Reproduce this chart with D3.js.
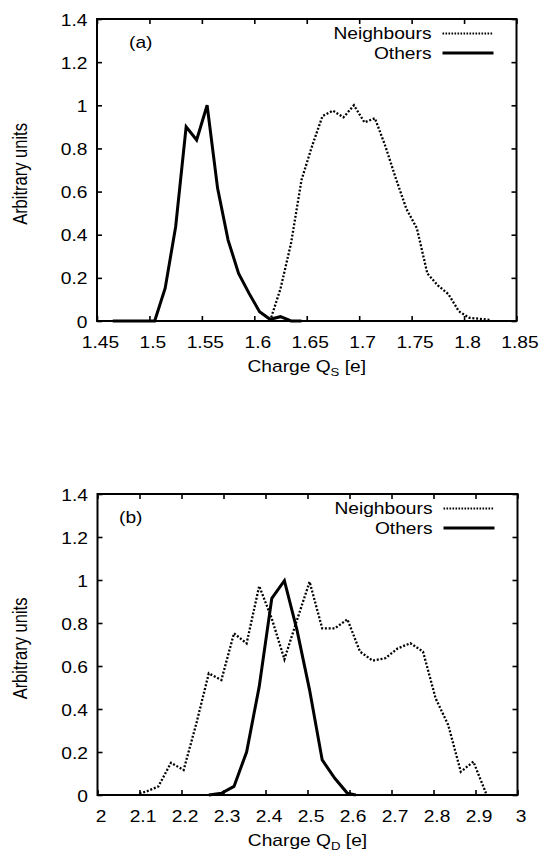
<!DOCTYPE html>
<html>
<head>
<meta charset="utf-8">
<script src="https://cdn.jsdelivr.net/npm/d3@7"></script>
<style>
  html, body { margin: 0; padding: 0; background: #fff; }
  svg { display: block; }
  text { font-family: "Liberation Sans", Arial, Helvetica, sans-serif; fill: #000; }
</style>
</head>
<body>
<svg id="fig" width="539" height="853"></svg>
<script>
// ---- Panel (a): charge Q_S ----
const qsNeighboursX = [1.615, 1.625, 1.635, 1.645, 1.655, 1.665, 1.675, 1.685, 1.695, 1.705, 1.715,
                       1.725, 1.735, 1.745, 1.755, 1.765, 1.775, 1.785, 1.795, 1.805, 1.815, 1.825];
const qsNeighboursY = [0, 0.15, 0.36, 0.654, 0.81, 0.95, 0.975, 0.944, 1.0, 0.921, 0.94,
                       0.81, 0.66, 0.52, 0.43, 0.22, 0.165, 0.125, 0.045, 0.015, 0.01, 0.005];
const qsOthersX = [1.465, 1.475, 1.485, 1.495, 1.505, 1.515, 1.525, 1.535, 1.545, 1.555, 1.565,
                   1.575, 1.585, 1.595, 1.605, 1.615, 1.625, 1.635, 1.645];
const qsOthersY = [0, 0, 0, 0, 0, 0.152, 0.437, 0.90, 0.839, 1.0, 0.615,
                   0.375, 0.221, 0.128, 0.043, 0.008, 0.02, 0, 0];
const qsTicks = [1.45, 1.5, 1.55, 1.6, 1.65, 1.7, 1.75, 1.8, 1.85];
const qsTickLabels = ["1.45", "1.5", "1.55", "1.6", "1.65", "1.7", "1.75", "1.8", "1.85"];

// ---- Panel (b): charge Q_D ----
const qdNeighboursX = [2.1, 2.115, 2.145, 2.175, 2.205, 2.235, 2.265, 2.295, 2.325, 2.355, 2.385,
                       2.415, 2.445, 2.475, 2.505, 2.535, 2.565, 2.595, 2.625, 2.655, 2.685,
                       2.715, 2.745, 2.775, 2.805, 2.835, 2.865, 2.895, 2.925];
const qdNeighboursY = [0.008, 0.015, 0.04, 0.15, 0.116, 0.33, 0.566, 0.535, 0.752, 0.705, 0.972,
                       0.82, 0.631, 0.814, 0.992, 0.775, 0.775, 0.817, 0.667, 0.625, 0.636,
                       0.682, 0.706, 0.667, 0.45, 0.326, 0.108, 0.155, 0.008];
const qdOthersX = [2.265, 2.295, 2.325, 2.355, 2.385, 2.415, 2.445, 2.475, 2.505, 2.535, 2.565, 2.595, 2.615];
const qdOthersY = [0, 0.008, 0.04, 0.20, 0.504, 0.915, 0.997, 0.767, 0.488, 0.163, 0.078, 0.008, 0];
const qdTicks = [2, 2.1, 2.2, 2.3, 2.4, 2.5, 2.6, 2.7, 2.8, 2.9, 3];
const qdTickLabels = ["2", "2.1", "2.2", "2.3", "2.4", "2.5", "2.6", "2.7", "2.8", "2.9", "3"];

// ---- Shared y axis ----
const yTicks = [0, 0.2, 0.4, 0.6, 0.8, 1.0, 1.2, 1.4];
const yTickLabels = ["0", "0.2", "0.4", "0.6", "0.8", "1", "1.2", "1.4"];
const seriesNames = ["Neighbours", "Others"];

const svg = d3.select("#fig");
svg.append("rect").attr("width", 539).attr("height", 853).attr("fill", "#fff");

const FONT = 16;
const STRETCH = 1.2;   // lettering is drawn horizontally widened

function wideText(parent, x, y, anchor, str) {
  const g = parent.append("g").attr("transform", `translate(${x},${y}) scale(${STRETCH},1)`);
  return g.append("text").attr("text-anchor", anchor).attr("font-size", FONT).text(str);
}

function panel(opts) {
  const { top, bottom, left, right, xDomain, xTicks, xLabels, neighbours, others,
          tag, tagDx, sub } = opts;
  const g = svg.append("g");
  const x = d3.scaleLinear().domain(xDomain).range([left, right]);
  const y = d3.scaleLinear().domain([0, 1.4]).range([bottom, top]);

  const tickLen = 5;
  // bottom axis with inward ticks
  const axB = g.append("g").attr("transform", `translate(0,${bottom})`)
    .call(d3.axisBottom(x).tickValues(xTicks).tickFormat((d, i) => xLabels[i])
      .tickSizeInner(-tickLen).tickSizeOuter(0).tickPadding(15.5));
  // top mirror ticks
  g.append("g").attr("transform", `translate(0,${top})`)
    .call(d3.axisTop(x).tickValues(xTicks).tickFormat("")
      .tickSizeInner(-tickLen).tickSizeOuter(0));
  // left axis
  const axL = g.append("g").attr("transform", `translate(${left},0)`)
    .call(d3.axisLeft(y).tickValues(yTicks).tickFormat((d, i) => yTickLabels[i])
      .tickSizeInner(-tickLen).tickSizeOuter(0).tickPadding(9.5));
  // right mirror ticks
  g.append("g").attr("transform", `translate(${right},0)`)
    .call(d3.axisRight(y).tickValues(yTicks).tickFormat("")
      .tickSizeInner(-tickLen).tickSizeOuter(0));

  g.selectAll(".domain").remove();
  g.selectAll(".tick line").attr("stroke", "#000").attr("stroke-width", 1.6);
  axB.selectAll(".tick text")
    .attr("font-size", FONT).attr("font-family", null).attr("fill", "#000")
    .attr("transform", `translate(3,0) scale(${STRETCH},1)`);
  axL.selectAll(".tick text")
    .attr("font-size", FONT).attr("font-family", null).attr("fill", "#000")
    .attr("x", -9.5 / STRETCH).attr("dy", "0.38em")
    .attr("transform", `scale(${STRETCH},1)`);

  // frame
  g.append("rect")
    .attr("x", left).attr("y", top)
    .attr("width", right - left).attr("height", bottom - top)
    .attr("fill", "none").attr("stroke", "#000").attr("stroke-width", 2);

  const line = d3.line().x(d => x(d[0])).y(d => y(d[1]));
  const nPts = neighbours[0].map((v, i) => [v, neighbours[1][i]]);
  const oPts = others[0].map((v, i) => [v, others[1][i]]);

  g.append("path").datum(nPts).attr("d", line)
    .attr("fill", "none").attr("stroke", "#000").attr("stroke-width", 2.3)
    .attr("stroke-dasharray", "2,1.8");
  g.append("path").datum(oPts).attr("d", line)
    .attr("fill", "none").attr("stroke", "#000").attr("stroke-width", 3)
    .attr("stroke-linejoin", "miter");

  // legend
  const legEnd = right - 85;
  const legRows = [top + 20, top + 39.5];
  seriesNames.forEach((name, i) => {
    wideText(g, legEnd, legRows[i], "end", name);
    const ly = legRows[i] - 5.5;
    const seg = g.append("line").attr("x1", right - 74).attr("x2", right - 23)
      .attr("y1", ly).attr("y2", ly).attr("stroke", "#000");
    if (i === 0) seg.attr("stroke-width", 1.8).attr("stroke-dasharray", "1.6,1.4");
    else seg.attr("stroke-width", 3);
  });

  // panel tag
  wideText(g, left + tagDx, top + 28.5, "start", tag);

  // x axis title with subscript
  const tg = g.append("g")
    .attr("transform", `translate(${(left + right) / 2},${bottom + 51}) scale(${STRETCH},1)`);
  const t = tg.append("text").attr("text-anchor", "middle").attr("font-size", FONT);
  t.append("tspan").text("Charge Q");
  t.append("tspan").attr("font-size", 11).attr("dy", 4).text(sub);
  t.append("tspan").attr("dy", -4).text(" [e]");

  // y axis title (rotated; widening applies across the glyphs, not along the run)
  const yt = g.append("g")
    .attr("transform", `translate(26.5,${(top + bottom) / 2 + 4}) rotate(-90) scale(1,${STRETCH})`);
  yt.append("text").attr("text-anchor", "middle").attr("font-size", 16.5).text("Arbitrary units");
}

panel({
  top: 19, bottom: 321, left: 97, right: 516.5,
  xDomain: [1.45, 1.85], xTicks: qsTicks, xLabels: qsTickLabels,
  neighbours: [qsNeighboursX, qsNeighboursY], others: [qsOthersX, qsOthersY],
  tag: "(a)", tagDx: 32, sub: "S"
});

panel({
  top: 494, bottom: 795, left: 97.5, right: 517.5,
  xDomain: [2, 3], xTicks: qdTicks, xLabels: qdTickLabels,
  neighbours: [qdNeighboursX, qdNeighboursY], others: [qdOthersX, qdOthersY],
  tag: "(b)", tagDx: 21.5, sub: "D"
});
</script>
</body>
</html>
